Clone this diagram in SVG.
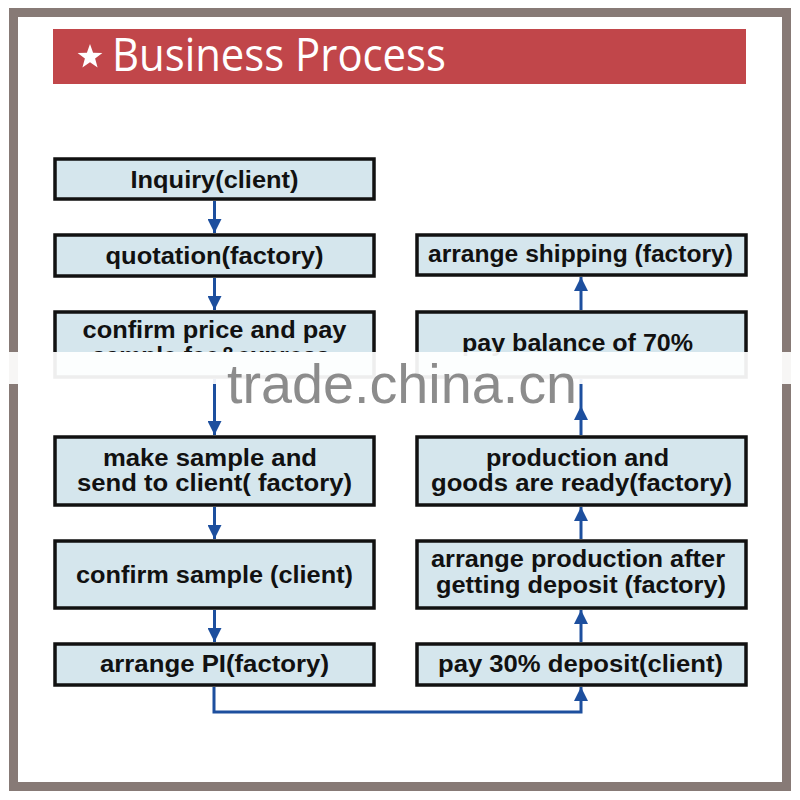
<svg xmlns="http://www.w3.org/2000/svg" width="800" height="800" viewBox="0 0 800 800">
<style>
.box{fill:#d5e6ed;stroke:#111;stroke-width:3.5}
.t{font-family:"Liberation Sans",Arial,sans-serif;font-weight:bold;font-size:23px;fill:#111;text-anchor:middle}
.c{fill:none;stroke:#1d4f9e;stroke-width:3}
</style>
<defs>
<marker id="ah" markerUnits="userSpaceOnUse" markerWidth="14" markerHeight="14" refX="14" refY="7" orient="auto">
<path d="M0,0 L14,7 L0,14 Z" fill="#1d4f9e"/>
</marker>
<clipPath id="cut"><rect x="0" y="0" width="800" height="352"/></clipPath>
</defs>
<rect x="0" y="0" width="800" height="800" fill="#fff"/>
<rect x="13.5" y="12.5" width="773" height="774" fill="#fff" stroke="#877a76" stroke-width="9"/>
<g id="title">
<rect x="53" y="29" width="693" height="55" fill="#c1464a"/>
<polygon points="90,44 93.1,52.7 102.4,53 95.1,58.6 97.6,67.5 90,62.3 82.4,67.5 84.9,58.6 77.6,53 86.9,52.7" fill="#fff"/>
<text x="112" y="71" font-family="'Open Sans','Noto Sans',sans-serif" font-size="45" fill="#fff" textLength="334" lengthAdjust="spacingAndGlyphs">Business Process</text>
</g>
<g id="connectors">
<path class="c" d="M214.5,201 V233" marker-end="url(#ah)"/>
<path class="c" d="M214.5,278 V310" marker-end="url(#ah)"/>
<path class="c" d="M214.5,379 V435" marker-end="url(#ah)"/>
<path class="c" d="M214.5,507 V539" marker-end="url(#ah)"/>
<path class="c" d="M214.5,610 V642" marker-end="url(#ah)"/>
<path class="c" d="M214,687 V712 H581 V687" marker-end="url(#ah)"/>
<path class="c" d="M581,642 V610" marker-end="url(#ah)"/>
<path class="c" d="M581,539 V507" marker-end="url(#ah)"/>
<path class="c" d="M581,435 L581,406 L581,379" marker-mid="url(#ah)"/>
<path class="c" d="M581,310 V277" marker-end="url(#ah)"/>
</g>
<g id="n1"><rect class="box" x="55" y="159" width="319" height="40"/><text class="t" x="214.5" y="188" textLength="168" lengthAdjust="spacingAndGlyphs">Inquiry(client)</text></g>
<g id="n2"><rect class="box" x="55" y="235" width="319" height="41"/><text class="t" x="214.5" y="264" textLength="218" lengthAdjust="spacingAndGlyphs">quotation(factory)</text></g>
<g id="n3"><rect class="box" x="55" y="312" width="319" height="65"/><text class="t" x="214.5" y="338" textLength="264" lengthAdjust="spacingAndGlyphs">confirm price and pay</text><text class="t" x="211" y="364" textLength="238" lengthAdjust="spacingAndGlyphs" clip-path="url(#cut)">sample fee&amp;express</text></g>
<g id="n4"><rect class="box" x="55" y="437" width="319" height="68"/><text class="t" x="210" y="466" textLength="214" lengthAdjust="spacingAndGlyphs">make sample and</text><text class="t" x="214.5" y="491" textLength="275" lengthAdjust="spacingAndGlyphs">send to client( factory)</text></g>
<g id="n5"><rect class="box" x="55" y="541" width="319" height="67"/><text class="t" x="214.5" y="583" textLength="277" lengthAdjust="spacingAndGlyphs">confirm sample (client)</text></g>
<g id="n6"><rect class="box" x="55" y="644" width="319" height="41"/><text class="t" x="214.5" y="672" textLength="229" lengthAdjust="spacingAndGlyphs">arrange PI(factory)</text></g>
<g id="r1"><rect class="box" x="417" y="235" width="329" height="40"/><text class="t" x="580.5" y="262" textLength="305" lengthAdjust="spacingAndGlyphs">arrange shipping (factory)</text></g>
<g id="r2"><rect class="box" x="417" y="312" width="329" height="65"/><text class="t" x="577.5" y="351" textLength="231" lengthAdjust="spacingAndGlyphs">pay balance of 70%</text></g>
<g id="r3"><rect class="box" x="417" y="437" width="329" height="68"/><text class="t" x="577.5" y="466" textLength="183" lengthAdjust="spacingAndGlyphs">production and</text><text class="t" x="581.5" y="491" textLength="301" lengthAdjust="spacingAndGlyphs">goods are ready(factory)</text></g>
<g id="r4"><rect class="box" x="417" y="541" width="329" height="67"/><text class="t" x="578" y="567" textLength="294" lengthAdjust="spacingAndGlyphs">arrange production after</text><text class="t" x="581" y="593" textLength="290" lengthAdjust="spacingAndGlyphs">getting deposit (factory)</text></g>
<g id="r5"><rect class="box" x="417" y="644" width="329" height="41"/><text class="t" x="580.5" y="672" textLength="285" lengthAdjust="spacingAndGlyphs">pay 30% deposit(client)</text></g>
<g id="watermark">
<rect x="0" y="352" width="800" height="32" fill="#fff" opacity="0.93"/>
<text x="227" y="403" font-family="'Liberation Sans',Arial,sans-serif" font-size="56" fill="#8c8c8c" textLength="350" lengthAdjust="spacingAndGlyphs">trade.china.cn</text>
</g>
</svg>
